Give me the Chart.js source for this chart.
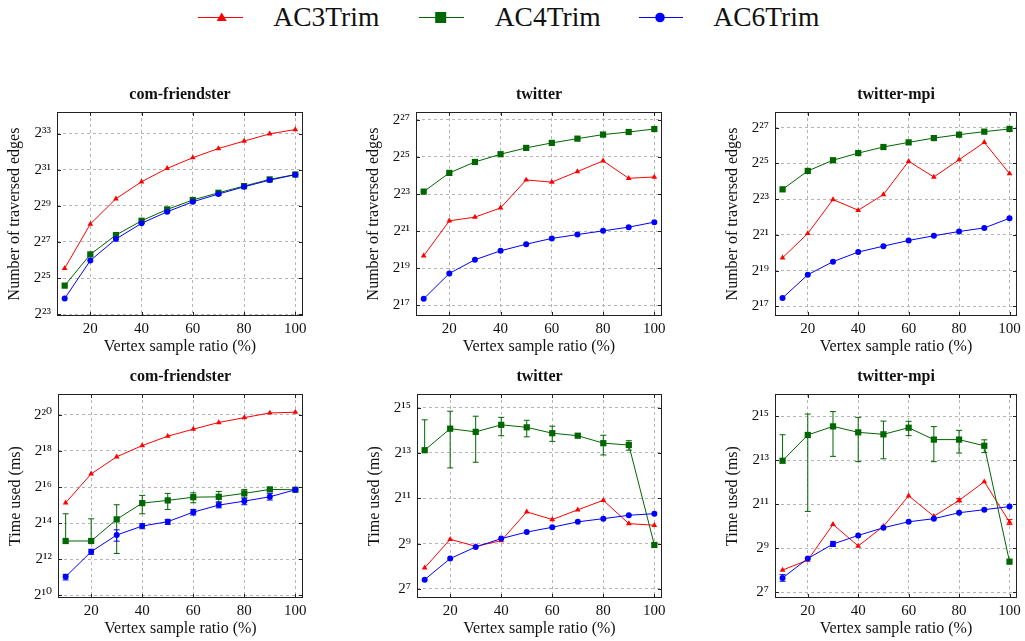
<!DOCTYPE html>
<html><head><meta charset="utf-8">
<script src="https://cdn.jsdelivr.net/npm/chart.js@4/dist/chart.umd.min.js"></script>
<style>
html,body{margin:0;padding:0;width:1025px;height:641px;overflow:hidden;background:#fff;position:relative;font-family:'Liberation Serif'}
canvas{position:absolute}
#legend{position:absolute;left:0;top:0}
#legend text{font-family:'Liberation Serif';font-size:27.5px}
</style></head><body>
<svg id="legend" width="1025" height="40" xmlns="http://www.w3.org/2000/svg"></svg>
<script>
// ---------- data (y values are log2 exponents) ----------
const seriesNames = ['AC3Trim', 'AC4Trim', 'AC6Trim'];
const xRatios = [10, 20, 30, 40, 50, 60, 70, 80, 90, 100];
const xTickValues = [20, 40, 60, 80, 100];

const panelTitles = ['com-friendster', 'twitter', 'twitter-mpi'];
const yTitleEdges = 'Number of traversed edges';
const yTitleTime = 'Time used (ms)';
const xTitle = 'Vertex sample ratio (%)';

const edgeTicksFriendster = [23, 25, 27, 29, 31, 33];
const edgeTicksTwitter = [17, 19, 21, 23, 25, 27];
const timeTicksFriendster = [10, 12, 14, 16, 18, 20];
const timeTicksTwitter = [7, 9, 11, 13, 15];

// Number of traversed edges
const friendsterEdgesAC3 = [25.54, 27.99, 29.39, 30.33, 31.07, 31.66, 32.17, 32.58, 32.98, 33.22];
const friendsterEdgesAC4 = [24.58, 26.31, 27.38, 28.17, 28.80, 29.32, 29.72, 30.09, 30.46, 30.73];
const friendsterEdgesAC6 = [23.87, 25.97, 27.16, 28.03, 28.67, 29.22, 29.65, 30.05, 30.42, 30.72];

const twitterEdgesAC3 = [19.66, 21.55, 21.75, 22.25, 23.76, 23.64, 24.21, 24.79, 23.85, 23.92];
const twitterEdgesAC4 = [23.13, 24.14, 24.73, 25.15, 25.49, 25.76, 25.99, 26.21, 26.35, 26.51];
const twitterEdgesAC6 = [17.34, 18.71, 19.45, 19.93, 20.29, 20.60, 20.81, 21.01, 21.21, 21.48];

const mpiEdgesAC3 = [19.72, 21.08, 22.98, 22.38, 23.26, 25.12, 24.24, 25.21, 26.18, 24.43];
const mpiEdgesAC4 = [23.55, 24.58, 25.18, 25.58, 25.92, 26.18, 26.42, 26.61, 26.78, 26.93];
const mpiEdgesAC6 = [17.47, 18.77, 19.50, 20.04, 20.37, 20.69, 20.95, 21.19, 21.39, 21.93];

// Time used (ms)
const friendsterTimeAC3 = [15.13, 16.73, 17.68, 18.30, 18.82, 19.21, 19.58, 19.85, 20.11, 20.15];
const friendsterTimeAC4 = [13.01, 13.01, 14.21, 15.11, 15.26, 15.44, 15.46, 15.65, 15.87, 15.85];
const friendsterTimeAC4Hi = [14.52, 14.24, 15.02, 15.54, 15.65, 15.68, 15.76, 15.87, 15.98, null];
const friendsterTimeAC4Lo = [null, null, 12.32, 14.52, 14.76, 15.13, 15.17, 15.39, 15.76, null];
const friendsterTimeAC6 = [11.03, 12.42, 13.34, 13.84, 14.08, 14.61, 15.00, 15.22, 15.46, 15.85];
const friendsterTimeAC6Hi = [11.16, 12.55, 13.63, 13.97, 14.21, 14.76, 15.17, 15.39, 15.65, null];
const friendsterTimeAC6Lo = [10.85, 12.27, 13.00, 13.69, 13.93, 14.45, 14.85, 15.02, 15.28, null];

const twitterTimeAC3 = [7.93, 9.19, 8.88, 9.13, 10.40, 10.06, 10.49, 10.91, 9.88, 9.81];
const twitterTimeAC4 = [13.12, 14.07, 13.93, 14.24, 14.13, 13.87, 13.76, 13.43, 13.35, 8.94];
const twitterTimeAC4Hi = [14.46, 14.84, 14.62, 14.57, 14.44, 14.18, 13.79, 13.78, 13.54, null];
const twitterTimeAC4Lo = [null, 12.34, 12.59, 13.76, 13.71, 13.51, 13.71, 12.91, 13.12, null];
const twitterTimeAC6 = [7.41, 8.34, 8.85, 9.22, 9.51, 9.72, 9.96, 10.10, 10.25, 10.32];

const mpiTimeAC3 = [8.01, 8.46, 10.08, 9.10, 9.99, 11.38, 10.45, 11.17, 12.02, 10.19];
const mpiTimeAC3Hi = [null, null, null, null, null, null, null, 11.25, null, 10.30];
const mpiTimeAC3Lo = [null, null, null, null, null, null, null, 11.10, null, 10.07];
const mpiTimeAC4 = [12.97, 14.14, 14.53, 14.26, 14.17, 14.47, 13.93, 13.93, 13.65, 8.39];
const mpiTimeAC4Hi = [14.15, 15.09, 15.20, 14.94, 14.77, 14.76, 14.52, 14.35, 13.92, null];
const mpiTimeAC4Lo = [null, 10.67, 13.17, 12.93, 13.06, 14.11, 12.93, 13.32, 13.34, null];
const mpiTimeAC6 = [7.65, 8.53, 9.19, 9.58, 9.93, 10.20, 10.34, 10.61, 10.75, 10.89];
const mpiTimeAC6Hi = [7.80, null, 9.31, null, null, null, null, null, null, null];
const mpiTimeAC6Lo = [7.50, null, 9.08, null, null, null, null, null, null, null];

// ---------- styles / layout ----------
const FONT = "'Liberation Serif'";
const TICK_FONT = "'Liberation Serif', 'DejaVu Serif'";
const TEXT = '#111';
const seriesStyle = [
  {color: '#ff0000', pointStyle: 'triangle', radius: 3.3, order: 3},
  {color: '#006600', pointStyle: 'rect', radius: 4.4, order: 2},
  {color: '#0000ff', pointStyle: 'circle', radius: 3.0, order: 1}
];
const SUP = '⁰¹²³⁴⁵⁶⁷⁸⁹';
const sup = n => String(n).split('').map(c => SUP[+c]).join('');

const panels = [
  {area: [57, 112, 303, 316], padR: 14, title: panelTitles[0], yTitle: yTitleEdges, yMin: 22.9, yMax: 34.19, ticks: edgeTicksFriendster,
   series: [[friendsterEdgesAC3], [friendsterEdgesAC4], [friendsterEdgesAC6]]},
  {area: [416, 112, 662, 316], padR: 14, title: panelTitles[1], yTitle: yTitleEdges, yMin: 16.41, yMax: 27.43, ticks: edgeTicksTwitter,
   series: [[twitterEdgesAC3], [twitterEdgesAC4], [twitterEdgesAC6]]},
  {area: [775, 112, 1020, 316], padR: 5, title: panelTitles[2], yTitle: yTitleEdges, yMin: 16.46, yMax: 27.88, ticks: edgeTicksTwitter,
   series: [[mpiEdgesAC3], [mpiEdgesAC4], [mpiEdgesAC6]]},
  {area: [58, 394, 303, 598], padR: 14, title: panelTitles[0], yTitle: yTitleTime, yMin: 9.85, yMax: 21.16, ticks: timeTicksFriendster,
   series: [[friendsterTimeAC3], [friendsterTimeAC4, friendsterTimeAC4Hi, friendsterTimeAC4Lo], [friendsterTimeAC6, friendsterTimeAC6Hi, friendsterTimeAC6Lo]]},
  {area: [417, 394, 662, 598], padR: 14, title: panelTitles[1], yTitle: yTitleTime, yMin: 6.60, yMax: 15.60, ticks: timeTicksTwitter,
   series: [[twitterTimeAC3], [twitterTimeAC4, twitterTimeAC4Hi, twitterTimeAC4Lo], [twitterTimeAC6]]},
  {area: [775, 394, 1020, 598], padR: 5, title: panelTitles[2], yTitle: yTitleTime, yMin: 6.74, yMax: 16.0, ticks: timeTicksTwitter,
   series: [[mpiTimeAC3, mpiTimeAC3Hi, mpiTimeAC3Lo], [mpiTimeAC4, mpiTimeAC4Hi, mpiTimeAC4Lo], [mpiTimeAC6, mpiTimeAC6Hi, mpiTimeAC6Lo]]}
];

const Y_AXIS_W = 52, X_AXIS_H = 46, TITLE_H = 38;

// ---------- plugins ----------
const errorBars = {
  id: 'errorBars',
  beforeDatasetsDraw(chart) {
    const {ctx} = chart;
    const xs = chart.scales.x, ys = chart.scales.y;
    ctx.save();
    chart.data.datasets.forEach(ds => {
      if (!ds.errHi) return;
      ctx.strokeStyle = ds.borderColor;
      ctx.lineWidth = 1;
      ds.data.forEach((p, i) => {
        const hi = ds.errHi[i], lo = ds.errLo ? ds.errLo[i] : null;
        if (hi == null && lo == null) return;
        const x = xs.getPixelForValue(p.x);
        const yHi = ys.getPixelForValue(hi != null ? hi : p.y);
        const yLo = ys.getPixelForValue(lo != null ? lo : p.y);
        ctx.beginPath();
        ctx.moveTo(x, yHi); ctx.lineTo(x, yLo);
        if (hi != null) { ctx.moveTo(x - 3, yHi); ctx.lineTo(x + 3, yHi); }
        if (lo != null) { ctx.moveTo(x - 3, yLo); ctx.lineTo(x + 3, yLo); }
        ctx.stroke();
      });
    });
    ctx.restore();
  }
};

const frame = {
  id: 'frame',
  afterDatasetsDraw(chart) {
    const {ctx, chartArea: a} = chart;
    const l = Math.round(a.left) + 0.5, r = Math.round(a.right) - 0.5;
    const t = Math.round(a.top) + 0.5, b = Math.round(a.bottom) - 0.5;
    ctx.save();
    ctx.strokeStyle = '#222';
    ctx.lineWidth = 1;
    ctx.beginPath();
    chart.scales.y.ticks.forEach(tk => {
      const y = Math.round(chart.scales.y.getPixelForValue(tk.value)) + 0.5;
      ctx.moveTo(l, y); ctx.lineTo(l + 3.5, y);
      ctx.moveTo(r, y); ctx.lineTo(r - 3.5, y);
    });
    chart.scales.x.ticks.forEach(tk => {
      const x = Math.round(chart.scales.x.getPixelForValue(tk.value)) + 0.5;
      ctx.moveTo(x, b); ctx.lineTo(x, b - 3.5);
      ctx.moveTo(x, t); ctx.lineTo(x, t + 3.5);
    });
    ctx.stroke();
    ctx.strokeRect(l, t, r - l, b - t);
    ctx.restore();
  }
};

// ---------- charts ----------
Chart.defaults.font.family = FONT;
Chart.defaults.color = TEXT;

panels.forEach(p => {
  const [L, T, R, B] = p.area;
  const cv = document.createElement('canvas');
  const w = (R - L) + Y_AXIS_W + p.padR;
  const h = (B - T) + TITLE_H + X_AXIS_H;
  cv.width = w; cv.height = h;
  cv.style.left = (L - Y_AXIS_W) + 'px';
  cv.style.top = (T - TITLE_H) + 'px';
  cv.style.width = w + 'px'; cv.style.height = h + 'px';
  document.body.appendChild(cv);

  const datasets = p.series.map((s, k) => {
    const st = seriesStyle[k];
    return {
      label: seriesNames[k],
      data: s[0].map((v, i) => ({x: xRatios[i], y: v})),
      errHi: s[1] || null,
      errLo: s[2] || null,
      borderColor: st.color,
      backgroundColor: st.color,
      borderWidth: 1,
      pointStyle: st.pointStyle,
      pointRadius: st.radius,
      pointBorderWidth: 0,
      pointBackgroundColor: st.color,
      order: st.order,
      tension: 0,
      fill: false
    };
  });

  new Chart(cv, {
    type: 'line',
    data: {datasets},
    options: {
      responsive: false,
      animation: false,
      devicePixelRatio: 1,
      events: [],
      layout: {padding: {left: 0, right: p.padR, top: 0, bottom: 0}},
      plugins: {
        legend: {display: false},
        tooltip: {enabled: false},
        title: {
          display: true, text: p.title, fullSize: false,
          font: {family: FONT, size: 16, weight: 'bold', lineHeight: 1.25},
          padding: {top: 11, bottom: 7}, color: TEXT
        }
      },
      scales: {
        x: {
          type: 'linear', min: 7, max: 103,
          afterBuildTicks: s => { s.ticks = xTickValues.map(v => ({value: v})); },
          afterFit: s => { s.height = X_AXIS_H; },
          grid: {color: '#b5b5b5', lineWidth: 1, drawTicks: false},
          border: {display: false, dash: [3, 3]},
          ticks: {autoSkip: false, maxRotation: 0, padding: 4, font: {family: FONT, size: 15}, color: TEXT},
          title: {display: true, text: xTitle, font: {family: FONT, size: 16, lineHeight: 1.25}, padding: {top: 0, bottom: 5}, color: TEXT}
        },
        y: {
          type: 'linear', min: p.yMin, max: p.yMax,
          afterBuildTicks: s => { s.ticks = p.ticks.map(v => ({value: v})); },
          afterFit: s => { s.width = Y_AXIS_W; },
          grid: {color: '#b5b5b5', lineWidth: 1, drawTicks: false},
          border: {display: false, dash: [3, 3]},
          ticks: {autoSkip: false, padding: 6, font: {family: TICK_FONT, size: 15}, color: TEXT, callback: v => '2' + sup(v)},
          title: {display: true, text: p.yTitle, font: {family: FONT, size: 16, lineHeight: 1.25}, padding: {top: 0, bottom: 0}, color: TEXT}
        }
      }
    },
    plugins: [errorBars, frame]
  });
});

// ---------- legend ----------
const legendLayout = {lineY: 17.5, textY: 25.7, lineX: [[198, 243], [419, 464], [639, 683]], markX: [221.7, 440.7, 660], textX: [273.3, 494.7, 713.3]};
const svg = document.getElementById('legend');
const NS = 'http://www.w3.org/2000/svg';
const mk = (tag, attrs) => { const e = document.createElementNS(NS, tag); for (const k in attrs) e.setAttribute(k, attrs[k]); svg.appendChild(e); return e; };
seriesNames.forEach((name, k) => {
  const c = seriesStyle[k].color, y = legendLayout.lineY, mx = legendLayout.markX[k];
  mk('line', {x1: legendLayout.lineX[k][0], x2: legendLayout.lineX[k][1], y1: y, y2: y, stroke: c, 'stroke-width': 1});
  if (k === 0) mk('polygon', {points: `${mx - 5},${y + 3.5} ${mx + 5},${y + 3.5} ${mx},${y - 5}`, fill: c});
  if (k === 1) mk('rect', {x: mx - 5.5, y: y - 5.5, width: 11, height: 11, fill: c});
  if (k === 2) mk('circle', {cx: mx, cy: y, r: 4.8, fill: c});
  const t = mk('text', {x: legendLayout.textX[k], y: legendLayout.textY, fill: TEXT});
  t.textContent = name;
});
</script>
</body></html>
